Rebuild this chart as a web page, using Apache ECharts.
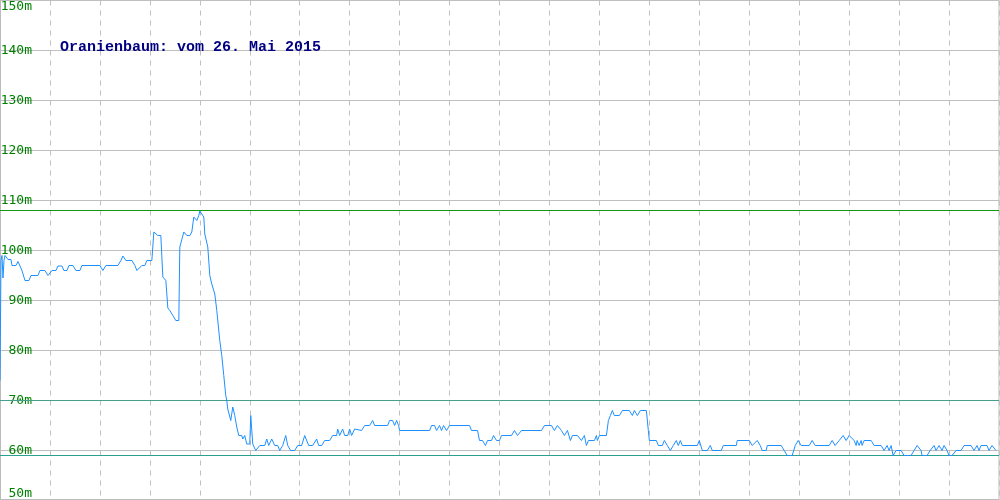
<!DOCTYPE html>
<html>
<head>
<meta charset="utf-8">
<script src="https://cdn.jsdelivr.net/npm/echarts@6/dist/echarts.min.js"></script>
<style>
html,body{margin:0;padding:0;background:#fff;}
#chart{width:1000px;height:500px;}
</style>
</head>
<body>
<div id="chart"></div>
<script>
const titleText = 'Oranienbaum: vom 26. Mai 2015';
const yTicks = [50, 60, 70, 80, 90, 100, 110, 120, 130, 140, 150];
// sample positions (time index) and elevations in metres
const sampleX = [0,1,2,3,4,5,7,8,11,12,16,18,20,22,25,29,31,38,40,45,48,50,52,56,58,62,64,67,69,73,76,80,82,100,103,106,118,121,123,126,132,135,137,139,142,145,147,152,154,158,161,163,166,168,170,173,176,179,180,184,187,190,192,194,197,199,200,202,204,205,208,210,212,215,217,220,222,224,226,227,228,230,231,232,233,235,237,239,242,243,245,247,250,251,252,253,256,258,260,265,267,269,272,275,278,280,283,286,288,291,295,298,302,305,307,309,313,317,319,322,325,330,333,337,338,340,343,345,348,350,352,355,357,362,365,370,373,375,388,390,393,395,397,399,400,430,432,435,437,440,442,444,447,450,470,472,478,480,483,486,488,492,494,497,500,502,512,515,518,522,542,545,552,555,558,562,565,568,571,573,578,582,585,587,589,595,597,598,600,607,609,611,613,615,620,623,630,633,635,638,641,647,649,650,657,659,663,665,668,671,674,677,679,681,683,698,700,703,708,711,713,722,724,737,738,750,753,755,758,761,763,767,768,782,785,788,793,796,799,802,810,813,816,830,833,836,840,844,847,850,852,855,857,858,860,862,863,865,872,875,882,885,888,890,892,894,897,902,905,912,915,918,922,923,928,931,935,937,940,943,945,948,950,953,957,962,965,972,975,978,980,982,988,990,993,995,997];
const elevation = [74,98,99,94.5,98,99,99,98.2,98.2,97,97,97.8,97.8,96,94,94,95,95,96,96,95,95,96,96,96.9,96.9,96,96,97,97,96,96,97,97,96,97,97,98,98.9,98,98,97,96,96,97,97,98,98,103.7,103,103,94.7,94,88.5,88,87,86,86,100.7,103.7,103,103,103.7,106.7,106,107,107.9,107.5,106.7,103.3,100.7,95,93.3,91.3,88,82,79,75,71,70,68.3,68.3,66,65.8,68.7,67,64.7,63,63,62.3,63,61.3,61.3,67,67,61.3,60,60,61,61,62.3,61,62.3,61,61,60,61,63,61,60,60,61,61,63,63,61,61,62.3,61,61,62,62,63,63,64.3,63,64.3,63,63,64.3,63,64.3,64,64,65,65,66,65,65,66,66,65,66,65,64,64,65,65,64,65,64,65,64,65,65,64,64,62,62,61,62,62,63,62,62,63,63,64,63,64,64,65,65,64,65,64,63,64,62,63,63,62,63,61,62,62,63,62,63,63,66,67,68,67,67,68,68,67,68,67,68,68,64,62,62,61,61,62,61,60,61,62,61,62,61,61,62,60,60,61,60,60,61,61,62,62,61,61,62,61,60,60,61,61,60,59,59,61,62,61,61,62,61,61,62,61,62,63,62,63,63,62,61,62,61,62,61,62,62,61,61,60,61,60,61,59,60,60,59,59,60,61,60,59,59,60,61,60,61,60,61,60,59,59,60,60,61,61,60,61,60,61,61,60,61,61,60];
const xRange = [0, 1000];
const maxLine = [108];
const refLines = [70, 59];

const seriesData = sampleX.map((x, i) => [x, elevation[i]]);

function refSeries(value, color) {
  return {
    type: 'line', silent: true, z: 2, showSymbol: false,
    data: [[xRange[0], value], [xRange[1], value]],
    lineStyle: {color: color, width: 1, type: 'solid'},
    itemStyle: {color: color},
    emphasis: {disabled: true}
  };
}

const chart = echarts.init(document.getElementById('chart'), null, {renderer: 'canvas'});
chart.setOption({
  animation: false,
  backgroundColor: '#ffffff',
  title: {
    text: titleText,
    left: 60,
    top: 40,
    padding: 0,
    textStyle: {fontFamily: 'Liberation Mono', fontSize: 15, fontWeight: 'bold', color: '#000080'}
  },
  grid: {left: 0, right: 1, top: 0.5, bottom: -0.5, outerBoundsMode: 'none', containLabel: false, show: true, borderColor: '#bbbbbb', borderWidth: 1, backgroundColor: 'transparent'},
  xAxis: {
    type: 'value', min: xRange[0], max: xRange[1], interval: 50,
    offset: -1,
    axisLine: {show: true, lineStyle: {color: '#bbbbbb', width: 1}},
    axisTick: {show: false}, axisLabel: {show: false},
    splitLine: {show: true, lineStyle: {color: '#c0c0c0', type: [5, 5], width: 1}}
  },
  yAxis: {
    type: 'value', min: yTicks[0], max: yTicks[yTicks.length - 1], interval: 10,
    axisLine: {show: true, lineStyle: {color: '#bbbbbb', width: 1}}, axisTick: {show: false},
    axisLabel: {
      show: true, inside: false, margin: -32, align: 'right',
      formatter: '{value}m', color: '#008000',
      fontFamily: 'DejaVu Sans Mono', fontSize: 13,
      verticalAlignMinLabel: 'bottom', verticalAlignMaxLabel: 'top'
    },
    splitLine: {show: true, lineStyle: {color: '#c0c0c0', width: 1}}
  },
  series: [
    refSeries(maxLine[0], '#119911'),
    refSeries(refLines[0], '#44a08c'),
    refSeries(refLines[1], '#2aa090'),
    {
      type: 'line',
      data: seriesData,
      showSymbol: false,
      lineStyle: {color: '#1e90ff', width: 1},
      itemStyle: {color: '#1e90ff'},
      emphasis: {disabled: true},
      z: 3
    }
  ]
});
</script>
</body>
</html>
